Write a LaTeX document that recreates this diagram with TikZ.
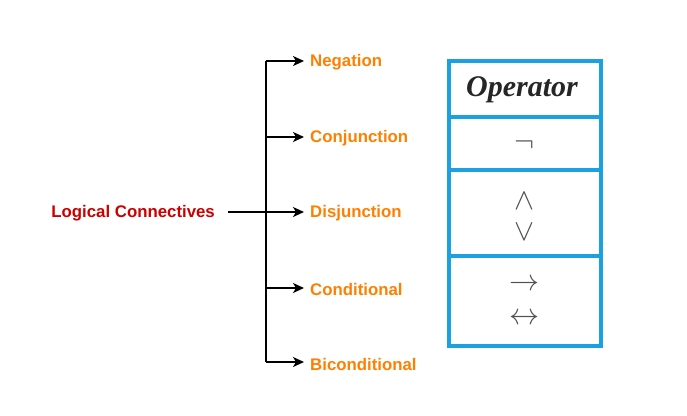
\documentclass[tikz,border=0pt]{standalone}
\usepackage{fix-cm}
\usepackage{fontspec}
\setmainfont{Liberation Serif}
\setsansfont{Liberation Sans}
\usetikzlibrary{arrows.meta}
\definecolor{lcred}{RGB}{204,0,0}
\definecolor{lborange}{RGB}{255,128,0}
\definecolor{tblue}{RGB}{27,161,226}
\definecolor{symgray}{RGB}{80,80,80}
\tikzset{
  root/.style={font=\sffamily\bfseries\fontsize{16.8}{18}\selectfont, text=lcred, inner sep=0pt, anchor=east},
  leaf/.style={font=\sffamily\bfseries\fontsize{16.8}{18}\selectfont, text=lborange, inner sep=0pt, anchor=west},
  conn/.style={line width=1.6pt, black},
  arr/.style={conn, -{Stealth[length=11pt,width=10pt,inset=3pt]}, shorten >=6pt},
  tbl/.style={line width=4pt, tblue},
  sym/.style={font=\fontsize{30}{32}\selectfont, text=symgray, inner sep=0pt},
  head/.style={font=\bfseries\itshape\fontsize{30}{32}\selectfont, text=black!85, inner sep=0pt}
}
\begin{document}
\begin{tikzpicture}[x=1pt,y=-1pt]
\useasboundingbox[fill=white] (0,0) rectangle (687,415);
% left part
\node[root] (lc) at (215,213) {Logical Connectives};
\node[leaf] (neg) at (310,62.5) {Negation};
\node[leaf] (con) at (310,138) {Conjunction};
\node[leaf] (dis) at (310,213) {Disjunction};
\node[leaf] (cnd) at (310,289) {Conditional};
\node[leaf] (bic) at (310,364) {Biconditional};
\coordinate (s) at (228,212);
\coordinate (top) at (266,61);
\coordinate (bot) at (266,362);
\coordinate (b2) at (266,137);
\coordinate (b4) at (266,288);
\draw[conn] (top) -- (bot);
\draw[arr] (s) -- (dis.west |- s);
\draw[arr] (top) -- (neg.west |- top);
\draw[arr] (b2) -- (con.west |- b2);
\draw[arr] (b4) -- (cnd.west |- b4);
\draw[arr] (bot) -- (bic.west |- bot);
% table
\draw[tbl] (449,61) rectangle (601,346);
\draw[tbl] (449,117) -- (601,117);
\draw[tbl] (449,170) -- (601,170);
\draw[tbl] (449,256) -- (601,256);
\node[head] (op) at (522,90) {Operator};
\node[sym] (neg s) at (524,145) {$\neg$};
\node[sym] (and s) at (524,201) {$\wedge$};
\node[sym] (or s) at (524,232) {$\vee$};
\node[sym] (imp s) at (524,285) {$\rightarrow$};
\node[sym] (iff s) at (524,319) {$\leftrightarrow$};
\end{tikzpicture}
\end{document}
